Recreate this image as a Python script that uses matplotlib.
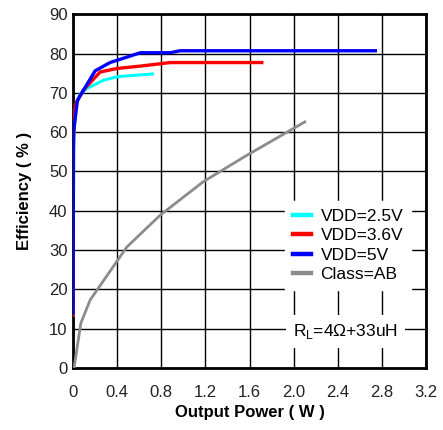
import matplotlib
matplotlib.use("Agg")
import matplotlib.pyplot as plt

plt.rcParams["font.family"] = ["Liberation Sans", "DejaVu Sans"]
plt.rcParams["mathtext.fontset"] = "custom"
plt.rcParams["mathtext.rm"] = "Liberation Sans"

# Efficiency curves
p_25 = [0.0, 0.003, 0.02, 0.06, 0.124, 0.275, 0.4, 0.72]
eff_25 = [13.5, 55, 66, 69.5, 71.1, 73.2, 74.1, 74.8]

p_36 = [0.0, 0.003, 0.02, 0.093, 0.245, 0.4, 0.61, 0.88, 1.71]
eff_36 = [13.5, 58, 67, 70.7, 75.3, 76.2, 76.8, 77.7, 77.7]

p_5 = [0.0, 0.004, 0.039, 0.2, 0.335, 0.61, 0.88, 0.97, 2.74]
eff_5 = [14, 60, 68.1, 75.6, 77.7, 80.2, 80.2, 80.7, 80.7]

p_ab = [0.01, 0.07, 0.154, 0.487, 0.79, 1.18, 1.58, 2.1]
eff_ab = [0.3, 11.4, 17.3, 30.8, 38.9, 47.4, 54.2, 62.6]

x_ticks = [0, 0.4, 0.8, 1.2, 1.6, 2.0, 2.4, 2.8, 3.2]
x_labels = ["0", "0.4", "0.8", "1.2", "1.6", "2.0", "2.4", "2.8", "3.2"]
y_ticks = [0, 10, 20, 30, 40, 50, 60, 70, 80, 90]

fig = plt.figure(figsize=(4.43, 4.30), dpi=100)
ax = fig.add_axes([0.165, 0.144, 0.797, 0.823])

ax.plot(p_25, eff_25, color="#00ffff", lw=2.2, label="VDD=2.5V", zorder=3)
ax.plot(p_36, eff_36, color="#ff0000", lw=2.4, label="VDD=3.6V", zorder=4)
ax.plot(p_5, eff_5, color="#0000ff", lw=2.4, label="VDD=5V", zorder=5)
ax.plot(p_ab, eff_ab, color="#8c8c8c", lw=2.0, label="Class=AB", zorder=3)

ax.set_xlim(0, 3.2)
ax.set_ylim(0, 90)
ax.set_xticks(x_ticks)
ax.set_xticklabels(x_labels)
ax.set_yticks(y_ticks)
ax.tick_params(length=0, labelsize=12, colors="#222222")
ax.tick_params(axis="x", pad=12)
ax.tick_params(axis="y", pad=4)
ax.grid(True, color="black", lw=1.0)
ax.set_axisbelow(True)
for s in ax.spines.values():
    s.set_linewidth(2)
    s.set_color("black")

ax.set_xlabel("Output Power ( W )", fontsize=12, fontweight="bold", labelpad=4)
ax.set_ylabel("Efficiency ( % )", fontsize=12, fontweight="bold", labelpad=12)

leg = ax.legend(loc="upper left", bbox_to_anchor=(0.60, 0.472), fontsize=12.5,
                handlelength=1.03, handletextpad=0.57, labelspacing=0.24,
                frameon=True, fancybox=False, borderpad=0.45,
                borderaxespad=0)
leg.get_frame().set_facecolor("white")
leg.get_frame().set_edgecolor("white")
leg.get_frame().set_alpha(1)
for h in leg.get_lines():
    h.set_linewidth(3.2)

ax.text(0.624, 0.1025, r"R$_\mathrm{L}$=4Ω+33uH", transform=ax.transAxes,
        fontsize=12.5, va="center", ha="left",
        bbox=dict(facecolor="white", edgecolor="none", pad=5))

fig.savefig("out.png", dpi=100)
